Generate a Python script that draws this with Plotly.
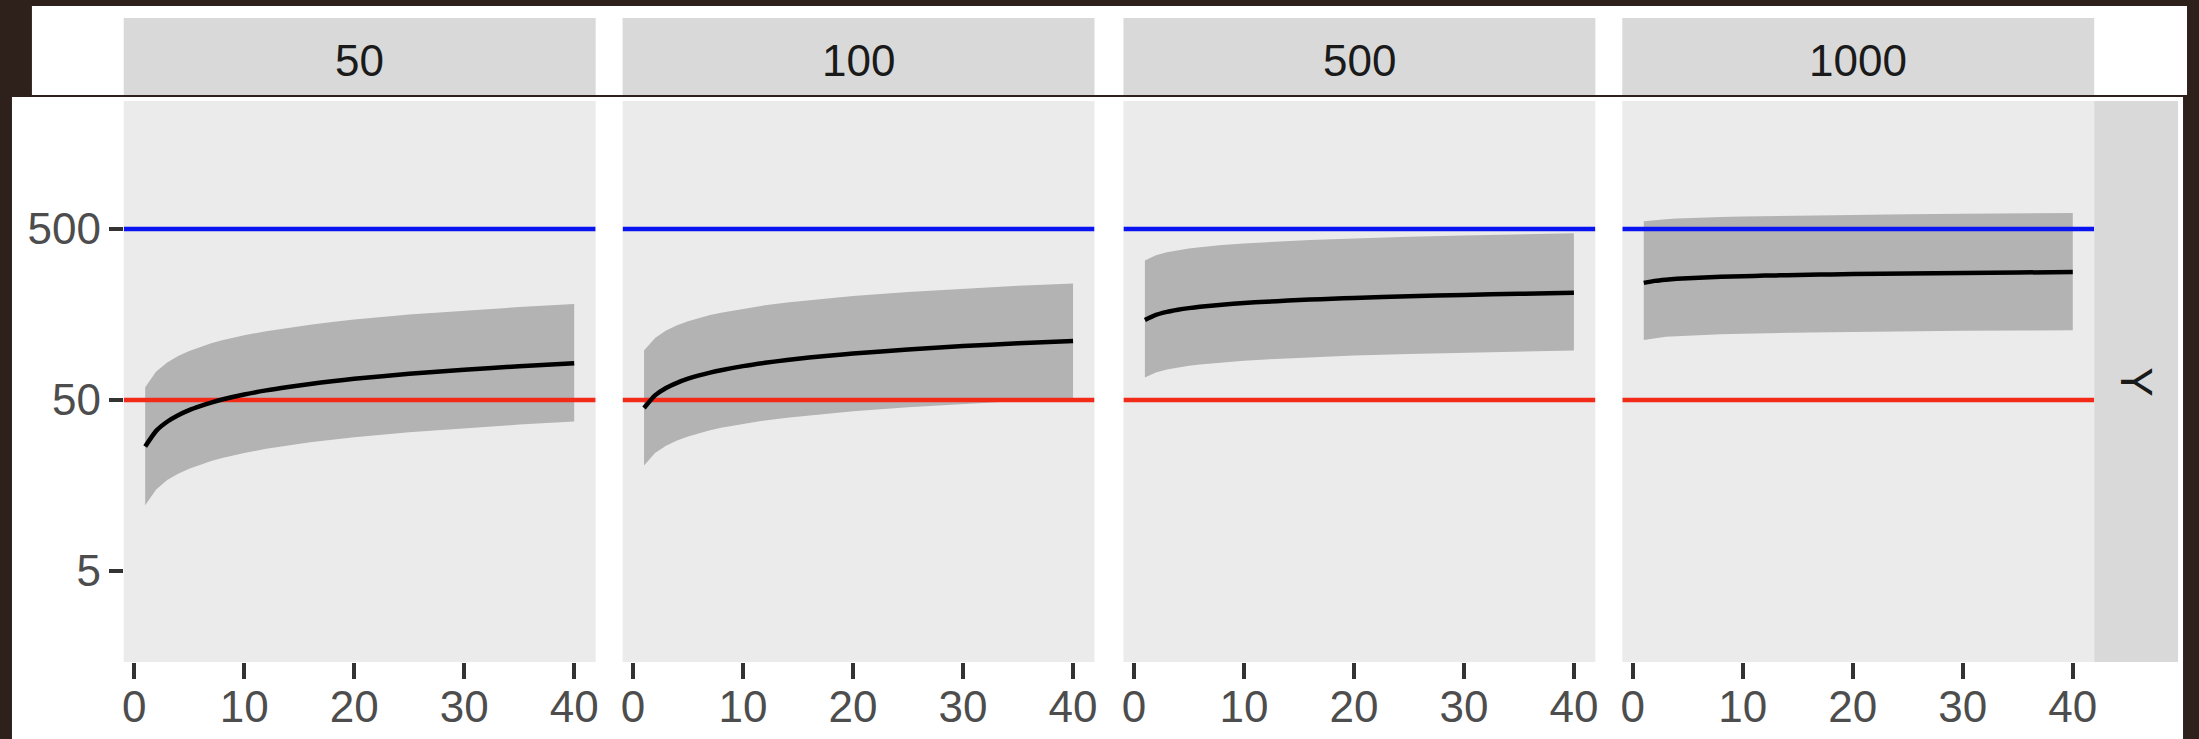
import plotly.graph_objects as go

# ---- data -------------------------------------------------------------
SAMPLE_SIZES = ["50", "100", "500", "1000"]
ROW_LABEL = "Y"

X = [1, 2, 3, 4, 5, 6, 7, 8, 10, 12, 14, 16, 18, 20, 25, 30, 35, 40]

MEAN_50 = [26.7, 33.0, 37.3, 40.7, 43.6, 46.0, 48.3, 50.3, 53.8, 56.9,
           59.6, 62.1, 64.4, 66.5, 71.2, 75.2, 78.8, 82.1]
LOWER_50 = [12.1, 15.0, 17.0, 18.5, 19.8, 20.9, 22.0, 22.9, 24.5, 25.9,
            27.1, 28.3, 29.3, 30.3, 32.4, 34.2, 35.9, 37.4]
UPPER_50 = [59.3, 73.3, 82.8, 90.4, 96.8, 102.1, 107.2, 111.7, 119.4, 126.3,
            132.3, 137.9, 143.0, 147.6, 158.1, 166.9, 174.9, 182.3]

MEAN_100 = [44.9, 53.2, 58.8, 63.0, 66.6, 69.6, 72.3, 74.7, 78.9, 82.5,
            85.7, 88.5, 91.1, 93.5, 98.7, 103.3, 107.2, 110.8]
LOWER_100 = [20.7, 24.5, 27.0, 29.0, 30.6, 32.0, 33.3, 34.4, 36.3, 38.0,
             39.4, 40.7, 41.9, 43.0, 45.4, 47.5, 49.3, 51.0]
UPPER_100 = [97.4, 115.4, 127.6, 136.7, 144.5, 151.0, 156.9, 162.1, 171.2, 179.0,
             186.0, 192.0, 197.7, 202.9, 214.2, 224.2, 232.6, 240.4]

MEAN_500 = [146.9, 157.3, 163.8, 168.5, 172.3, 175.4, 178.1, 180.5, 184.5, 187.8,
            190.7, 193.3, 195.6, 197.6, 202.0, 205.7, 208.9, 211.7]
LOWER_500 = [67.6, 72.4, 75.3, 77.5, 79.3, 80.7, 81.9, 83.0, 84.9, 86.4,
             87.7, 88.9, 90.0, 90.9, 92.9, 94.6, 96.1, 97.4]
UPPER_500 = [327.6, 350.8, 365.3, 375.8, 384.2, 391.1, 397.2, 402.5, 411.4, 418.8,
             425.3, 431.1, 436.2, 440.6, 450.5, 458.7, 465.8, 472.1]

MEAN_1000 = [242.0, 248.7, 252.7, 255.6, 257.9, 259.7, 261.3, 262.7, 265.0, 266.9,
             268.5, 270.0, 271.3, 272.4, 274.8, 276.8, 278.4, 279.9]
LOWER_1000 = [112.0, 115.0, 117.0, 118.0, 119.0, 120.0, 120.5, 121.0, 122.0, 123.0,
              123.5, 124.0, 124.5, 125.0, 126.0, 127.0, 127.5, 128.0]
UPPER_1000 = [555.0, 565.0, 571.0, 576.0, 580.0, 583.0, 586.0, 588.0, 592.0, 595.0,
              598.0, 601.0, 603.0, 605.0, 609.0, 613.0, 617.0, 621.0]

MEANS = [MEAN_50, MEAN_100, MEAN_500, MEAN_1000]
LOWERS = [LOWER_50, LOWER_100, LOWER_500, LOWER_1000]
UPPERS = [UPPER_50, UPPER_100, UPPER_500, UPPER_1000]

UPPER_LIMIT = 500
LOWER_LIMIT = 50

X_TICKS = [0, 10, 20, 30, 40]
Y_TICKS = [5, 50, 500]

# ---- layout geometry (pixels) ------------------------------------------
W, H = 2199, 739
PANEL_X = [(122, 595), (622, 1095), (1124, 1597), (1624, 2097)]
PANEL_TOP, PANEL_BOTTOM = 101, 662
STRIP_TOP, STRIP_BOTTOM = 18, 95
RIGHT_STRIP = (2097, 2181)
X_RANGE = [-0.95, 41.95]
Y_RANGE = [0.1668, 3.4475]  # log10 units

BG = "#2E201B"
PANEL_BG = "#EBEBEB"
STRIP_BG = "#D9D9D9"
RIBBON = "#B3B3B3"
FONT = "Liberation Sans, Arial, sans-serif"
FONT_SIZE = 44


def fx(px):
    return px / W


def fy(py):
    return 1 - py / H


def rect(x0, y0, x1, y1, color):
    return dict(type="rect", xref="paper", yref="paper", layer="below",
                x0=fx(x0), x1=fx(x1), y0=fy(y1), y1=fy(y0),
                fillcolor=color, line=dict(width=0))


fig = go.Figure()

shapes = [
    rect(30, 6, 2190, 95, "white"),
    rect(10, 97, 2186, H, "white"),
]
annotations = []

for i, label in enumerate(SAMPLE_SIZES):
    n = "" if i == 0 else str(i + 1)
    xa, ya = "x" + n, "y" + n
    left, right = PANEL_X[i]

    shapes.append(rect(left, PANEL_TOP, right, PANEL_BOTTOM, PANEL_BG))
    shapes.append(rect(left, STRIP_TOP, right, STRIP_BOTTOM, STRIP_BG))
    annotations.append(dict(
        text=label, xref="paper", yref="paper",
        x=fx((left + right) / 2), y=fy(60),
        xanchor="center", yanchor="middle", showarrow=False,
        font=dict(family=FONT, size=FONT_SIZE, color="#1A1A1A")))

    # confidence ribbon
    fig.add_trace(go.Scatter(x=X, y=LOWERS[i], mode="lines",
                             line=dict(width=0, color=RIBBON),
                             hoverinfo="skip", showlegend=False,
                             xaxis=xa, yaxis=ya))
    fig.add_trace(go.Scatter(x=X, y=UPPERS[i], mode="lines",
                             line=dict(width=0, color=RIBBON),
                             fill="tonexty", fillcolor=RIBBON,
                             hoverinfo="skip", showlegend=False,
                             xaxis=xa, yaxis=ya))
    # reference levels
    for level, color in ((UPPER_LIMIT, "#0A14F0"), (LOWER_LIMIT, "#F42A18")):
        fig.add_trace(go.Scatter(x=X_RANGE, y=[level, level], mode="lines",
                                 line=dict(width=4.5, color=color),
                                 hoverinfo="skip", showlegend=False,
                                 cliponaxis=True, xaxis=xa, yaxis=ya))
    # mean curve
    fig.add_trace(go.Scatter(x=X, y=MEANS[i], mode="lines",
                             line=dict(width=4.5, color="black", shape="spline",
                                       smoothing=0.6),
                             showlegend=False, xaxis=xa, yaxis=ya))

    axis_x = dict(domain=[fx(left), fx(right)], range=X_RANGE,
                  anchor=ya, showgrid=False, zeroline=False, showline=False,
                  tickmode="array", tickvals=X_TICKS,
                  ticks="outside", ticklen=16, tickwidth=4, tickcolor="#333333",
                  ticklabelstandoff=-10,
                  tickfont=dict(family=FONT, size=FONT_SIZE, color="#4D4D4D"))
    axis_y = dict(domain=[fy(PANEL_BOTTOM), fy(PANEL_TOP)], type="log",
                  range=Y_RANGE, anchor=xa, showgrid=False, zeroline=False,
                  showline=False)
    if i == 0:
        axis_y.update(tickmode="array", tickvals=Y_TICKS,
                      ticktext=[str(v) for v in Y_TICKS],
                      ticks="outside", ticklen=14, tickwidth=4,
                      tickcolor="#333333", ticklabelstandoff=-1,
                      tickfont=dict(family=FONT, size=FONT_SIZE, color="#4D4D4D"))
    else:
        axis_y.update(showticklabels=False, ticks="")
    fig.layout["xaxis" + n] = axis_x
    fig.layout["yaxis" + n] = axis_y

# right-hand row strip
shapes.append(rect(RIGHT_STRIP[0], PANEL_TOP, RIGHT_STRIP[1], PANEL_BOTTOM, STRIP_BG))
annotations.append(dict(
    text=ROW_LABEL, xref="paper", yref="paper",
    x=fx(sum(RIGHT_STRIP) / 2), y=fy((PANEL_TOP + PANEL_BOTTOM) / 2),
    xanchor="center", yanchor="middle", showarrow=False, textangle=90,
    font=dict(family=FONT, size=FONT_SIZE, color="#1A1A1A")))

fig.update_layout(
    width=W, height=H,
    margin=dict(l=0, r=0, t=0, b=0),
    paper_bgcolor=BG, plot_bgcolor="rgba(0,0,0,0)",
    shapes=shapes, annotations=annotations,
    showlegend=False,
)

fig.write_html("out.html")
